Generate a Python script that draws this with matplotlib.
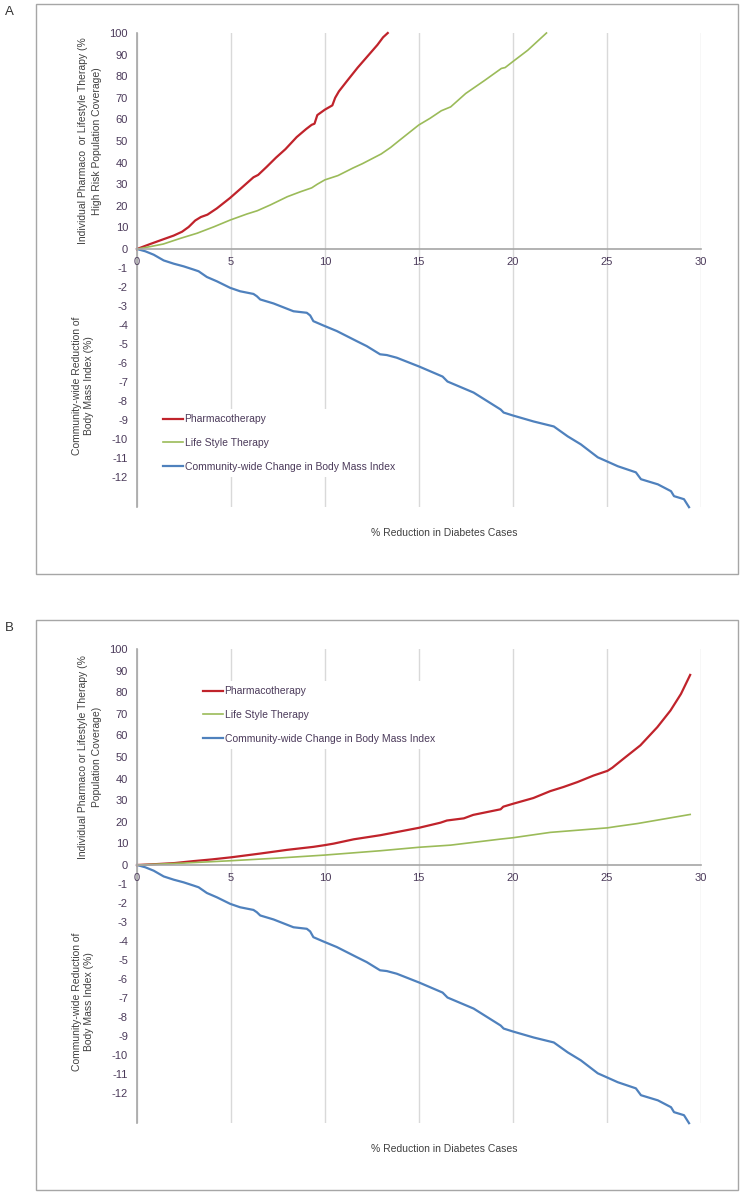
import matplotlib
matplotlib.use("Agg")
import matplotlib.pyplot as plt
from matplotlib.patches import Rectangle
from matplotlib.lines import Line2D

plt.rcParams['font.family'] = ['Liberation Sans', 'DejaVu Sans']
plt.rcParams['axes.unicode_minus'] = False

# ---------------- data ----------------
# Panel A: individual therapy coverage (% high-risk population)
pharmaA_x = [0, 0.7, 1.4, 1.95, 2.4, 2.75, 3.1, 3.4, 3.75, 4.25, 4.95, 5.5, 6.2, 6.45, 6.9, 7.4, 7.9,
             8.5, 9.0, 9.3, 9.45, 9.6, 10.0, 10.4, 10.55, 10.75, 11.2, 11.75, 12.3, 12.8, 13.1, 13.35]
pharmaA_y = [0, 2.3, 4.5, 6.2, 8.0, 10.2, 13.2, 14.8, 15.9, 18.8, 23.6, 27.8, 33.2, 34.3, 38.0, 42.3, 46.2,
             51.8, 55.5, 57.5, 58.0, 62.0, 64.5, 66.5, 70.0, 73.0, 78.0, 84.0, 89.5, 94.5, 98.0, 100.0]
lifeA_x = [0, 0.7, 1.4, 2.3, 3.2, 4.1, 4.96, 5.85, 6.4, 7.1, 8.0, 8.7, 9.3, 9.6, 10.0, 10.7, 11.5,
           12.0, 13.0, 13.5, 14.0, 15.0, 15.6, 16.2, 16.7, 17.5, 18.5, 19.4, 19.6, 20.0, 20.8, 21.8]
lifeA_y = [0, 1.1, 2.3, 4.9, 7.3, 10.3, 13.4, 16.2, 17.7, 20.4, 24.2, 26.5, 28.3, 30.0, 32.0, 34.0, 37.5,
           39.5, 44.0, 47.0, 50.5, 57.4, 60.5, 64.0, 65.8, 72.0, 78.0, 83.6, 84.0, 86.7, 92.0, 100.0]

# Panel B: individual therapy coverage (% population)
pharmaB_x = [0, 1, 2, 3, 4, 5.05, 6.56, 7.98, 9.39, 10, 10.47, 11.54, 12.96, 15, 16.16, 16.5, 17.4,
             17.9, 19.36, 19.5, 20, 21.1, 22.0, 22.7, 23.45, 24.3, 25.05, 25.3, 25.9, 26.8, 27.7,
             28.4, 28.96, 29.45]
pharmaB_y = [0, 0.4, 0.9, 1.8, 2.6, 3.6, 5.3, 7.0, 8.4, 9.2, 9.9, 11.9, 13.8, 17.2, 19.6, 20.6, 21.6,
             23.2, 25.8, 27.0, 28.3, 31.0, 34.2, 36.1, 38.4, 41.4, 43.6, 45.0, 49.2, 55.4, 63.8,
             71.5, 79.2, 88.0]
lifeB_x = [0, 2.5, 5.05, 7.5, 10, 12.96, 15, 16.7, 19.36, 20, 22, 25.05, 25.5, 26.65, 29.45]
lifeB_y = [0, 0.9, 2.0, 3.2, 4.6, 6.6, 8.2, 9.2, 12.0, 12.6, 15.1, 17.2, 17.8, 19.2, 23.4]

# Community-wide change in BMI (%) - same in both panels
bmi_x = [0, 0.44, 0.89, 1.42, 1.95, 2.48, 3.01, 3.28, 3.72, 4.26, 4.96, 5.49, 6.2, 6.38, 6.56, 7.27,
         8.33, 9.04, 9.22, 9.39, 9.93, 10.64, 11.7, 12.23, 12.94, 13.3, 13.83, 15.04, 16.27, 16.53,
         17.92, 19.36, 19.52, 20.0, 21.12, 22.19, 22.93, 23.63, 24.53, 25.01, 25.6, 26.56, 26.83,
         27.73, 28.43, 28.59, 29.12, 29.39]
bmi_y = [0, -0.12, -0.30, -0.60, -0.77, -0.91, -1.08, -1.17, -1.47, -1.70, -2.04, -2.22, -2.36, -2.48,
         -2.65, -2.86, -3.27, -3.35, -3.49, -3.79, -4.02, -4.31, -4.84, -5.10, -5.53, -5.57, -5.71,
         -6.18, -6.70, -6.96, -7.54, -8.43, -8.59, -8.74, -9.06, -9.32, -9.84, -10.26, -10.94,
         -11.15, -11.41, -11.73, -12.09, -12.36, -12.72, -12.98, -13.14, -13.56]

x_ticks = [0, 5, 10, 15, 20, 25, 30]
top_ticks = [0, 10, 20, 30, 40, 50, 60, 70, 80, 90, 100]
low_ticks = [-1, -2, -3, -4, -5, -6, -7, -8, -9, -10, -11, -12]

series_labels = ["Pharmacotherapy", "Life Style Therapy", "Community-wide Change in Body Mass Index"]
ylabel_top_A = "Individual Pharmaco  or Lifestyle Therapy (%\nHigh Risk Population Coverage)"
ylabel_top_B = "Individual Pharmaco or Lifestyle Therapy (%\nPopulation Coverage)"
ylabel_low = "Community-wide Reduction of\nBody Mass Index (%)"
xlabel = "% Reduction in Diabetes Cases"

# ---------------- style ----------------
RED = "#C0232B"
GREEN = "#9BBB59"
BLUE = "#4F81BD"
GRID = "#D9D9D9"
AXIS = "#A6A6A6"
TICK = "#4B3A5A"
LABEL = "#404040"
FS = 7.5
TFS = 8

W, H = 743, 1195
fig = plt.figure(figsize=(W / 100, H / 100), dpi=100)


def fx(px):
    return px / W


def fy(py):
    return 1 - py / H


def style_axes(ax):
    ax.set_xlim(0, 30)
    for s in ['top', 'right', 'bottom']:
        ax.spines[s].set_visible(False)
    ax.spines['left'].set_color(AXIS)
    ax.spines['left'].set_linewidth(1.2)
    ax.set_xticks(x_ticks)
    ax.grid(axis='x', color=GRID, linewidth=1.0)
    ax.set_axisbelow(True)
    ax.tick_params(axis='both', length=0, labelsize=TFS, labelcolor=TICK)
    ax.tick_params(axis='y', pad=6.5)
    ax.set_facecolor('none')


def panel(offset, pharma_x, pharma_y, life_x, life_y, ylab_top, letter, legend_in_top, legend_xy):
    x0, x1 = 137, 700.5
    top0, zero, bot = 33 + offset, 249 + offset, 507 + offset
    # frame
    fig.patches.append(Rectangle((fx(36), fy(574 + offset)), fx(738) - fx(36), fy(4 + offset) - fy(574 + offset),
                                 transform=fig.transFigure, fill=False, edgecolor=AXIS, linewidth=1.0))
    fig.text(fx(9), fy(12 + offset), letter, fontsize=9.5, color='#333333', ha='center', va='center')

    axl = fig.add_axes([fx(x0), fy(bot), fx(x1) - fx(x0), fy(zero) - fy(bot)])
    style_axes(axl)
    axl.set_ylim(-13.55, 0)
    axl.set_yticks(low_ticks)
    axl.set_xticklabels([])
    axl.plot(bmi_x, bmi_y, color=BLUE, linewidth=1.6, solid_joinstyle='round', clip_on=False)

    axt = fig.add_axes([fx(x0), fy(zero), fx(x1) - fx(x0), fy(top0) - fy(zero)])
    style_axes(axt)
    axt.set_ylim(0, 100)
    axt.set_yticks(top_ticks)
    axt.spines['bottom'].set_visible(True)
    axt.spines['bottom'].set_color(AXIS)
    axt.spines['bottom'].set_linewidth(1.2)
    axt.tick_params(axis='x', pad=6)
    axt.plot(pharma_x, pharma_y, color=RED, linewidth=1.6, solid_joinstyle='round', clip_on=False)
    axt.plot(life_x, life_y, color=GREEN, linewidth=1.2, solid_joinstyle='round', clip_on=False)

    fig.text(fx(90), fy((top0 + zero) / 2), ylab_top, rotation=90, ha='center', va='center',
             multialignment='center', fontsize=FS, color=LABEL, linespacing=1.5)
    fig.text(fx(83), fy(386 + offset), ylabel_low, rotation=90, ha='center', va='center',
             multialignment='center', fontsize=FS, color=LABEL, linespacing=1.3)
    fig.text(fx(444), fy(533 + offset), xlabel, ha='center', va='center', fontsize=FS, color=LABEL)

    handles = [Line2D([], [], color=RED, linewidth=1.6),
               Line2D([], [], color=GREEN, linewidth=1.2),
               Line2D([], [], color=BLUE, linewidth=1.6)]
    host = axt if legend_in_top else axl
    leg = host.legend(handles, series_labels, loc='upper left',
                      bbox_to_anchor=(fx(legend_xy[0]), fy(legend_xy[1] + offset)),
                      bbox_transform=fig.transFigure, frameon=True, fontsize=FS,
                      handlelength=1.9, handletextpad=0.15, labelspacing=1.32,
                      borderpad=0.5, borderaxespad=0)
    leg.get_frame().set_facecolor('white')
    leg.get_frame().set_edgecolor('none')
    leg.get_frame().set_alpha(1)
    for t in leg.get_texts():
        t.set_color(TICK)
    leg.set_zorder(5)


panel(0, pharmaA_x, pharmaA_y, lifeA_x, lifeA_y, ylabel_top_A, "A", False, (158, 409))
panel(616, pharmaB_x, pharmaB_y, lifeB_x, lifeB_y, ylabel_top_B, "B", True, (198, 65))

fig.savefig("out.png", dpi=100, facecolor='white')
